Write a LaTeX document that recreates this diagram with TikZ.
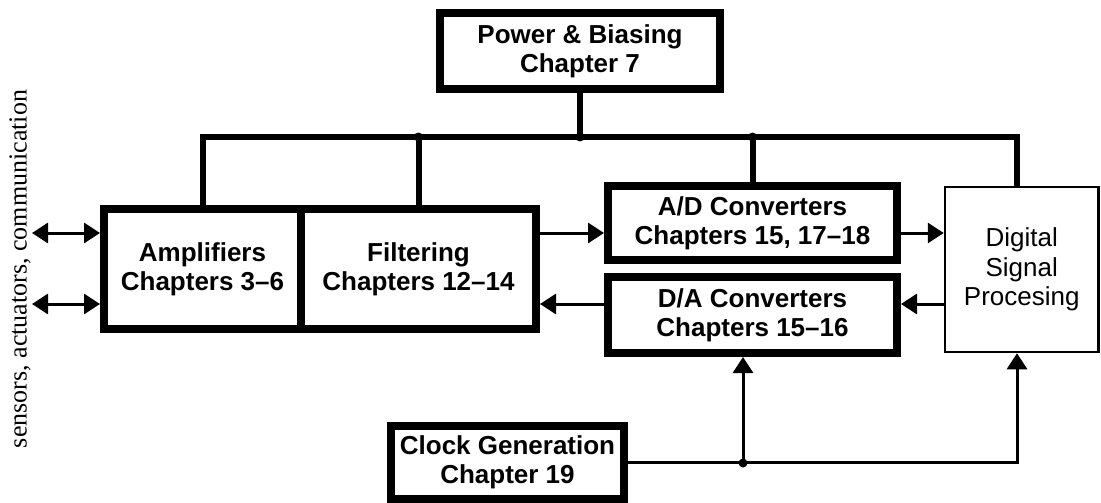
\documentclass[tikz,border=0pt]{standalone}
\usepackage{fontspec}
\setmainfont{Liberation Serif}
\setsansfont{Liberation Sans}
\usetikzlibrary{arrows.meta,positioning}

\begin{document}
\begin{tikzpicture}[x=1pt,y=-1pt,
    block/.style={draw,line width=8pt,inner sep=0pt,align=center,
      font=\sffamily\bfseries\fontsize{26}{29}\selectfont},
    dspblock/.style={draw,line width=2.5pt,inner sep=0pt,align=center,
      font=\sffamily\fontsize{26}{29.5}\selectfont},
    bus/.style={line width=6pt},
    sig/.style={line width=3pt,-{Triangle[length=16pt,width=20pt]}},
    sigboth/.style={line width=3pt,{Triangle[length=16pt,width=20pt]}-{Triangle[length=16pt,width=20pt]}}]

        \useasboundingbox (0,0) rectangle (1101,503);

        \node[block,minimum width=280pt,minimum height=76pt] (pwr) at (580,51) {Power \& Biasing\\Chapter 7};
        \node[block,minimum width=197pt,minimum height=120pt] (amp) at (202.5,269) {Amplifiers\\Chapters 3--6};
        \node[block,minimum width=235pt,minimum height=120pt] (filt) [right=-8pt of amp] {Filtering\\Chapters 12--14};
        \node[block,minimum width=289pt,minimum height=74pt] (ad) at (752.5,223) {A/D Converters\\Chapters 15, 17--18};
        \node[block,minimum width=289pt,minimum height=76pt] (da) [below=9pt of ad] {D/A Converters\\Chapters 15--16};
        \node[dspblock,minimum width=153.5pt,minimum height=165pt] (dsp) at (1021.75,269.5) {Digital\\Signal\\Procesing};
        \node[block,minimum width=233pt,minimum height=73pt] (clk) at (507.5,462.5) {Clock Generation\\Chapter 19};
        \node[rotate=90,font=\rmfamily\fontsize{26}{30}\selectfont] (side) at (20,269) {sensors, actuators, communication};

        % power bus
        \coordinate (busR) at (1017,137);
        \draw[bus] (amp.north) |- (busR) -- (busR |- dsp.north);
        \draw[bus] (filt.north) -- (filt.north |- busR);
        \draw[bus] (ad.north) -- (ad.north |- busR);
        \draw[bus] (pwr.south) -- (pwr.south |- busR);
        \fill (filt.north |- busR) circle (4.5pt);
        \fill (pwr.south |- busR) circle (4.5pt);
        \fill (ad.north |- busR) circle (4.5pt);

        % signal path
        \coordinate (io1) at (32,233);
        \coordinate (io2) at (32,304);
        \draw[sigboth] (io1) -- (io1 -| amp.west);
        \draw[sigboth] (io2) -- (io2 -| amp.west);
        \draw[sig] ([yshift=-10pt]ad.west -| filt.east) -- ([yshift=-10pt]ad.west);
        \draw[sig] ([yshift=-10pt]ad.east) -- ([yshift=-10pt]ad.east -| dsp.west);
        \draw[sig] ([yshift=11pt]da.east -| dsp.west) -- ([yshift=11pt]da.east);
        \draw[sig] ([yshift=11pt]da.west) -- ([yshift=11pt]da.west -| filt.east);

        % clock
        \coordinate (tap) at (743,463);
        \draw[sig] (clk.east) -| (dsp.south -| busR);
        \draw[sig] (tap) -- (tap |- da.south);
        \fill (tap) circle (4.5pt);

\end{tikzpicture}
\end{document}
